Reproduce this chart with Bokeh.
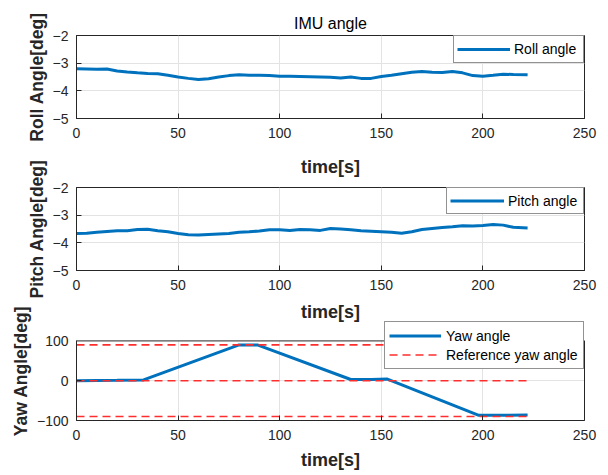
from bokeh.plotting import figure
from bokeh.models import (Range1d, Legend, LegendItem, FixedTicker, LinearAxis,
                          BoxAnnotation, Span, Title)
from bokeh.layouts import column
from bokeh.embed import file_html
from bokeh.resources import INLINE

# ---------------- data ----------------
time_s = [0, 5, 10, 15, 20, 25, 30, 35, 40, 45, 50, 55, 60, 65, 70, 75, 80, 85, 90, 95,
          100, 105, 110, 115, 120, 125, 130, 135, 140, 145, 150, 155, 160, 165, 170, 175,
          180, 185, 190, 195, 200, 205, 210, 215, 222]
roll_angle = [-3.20, -3.21, -3.22, -3.21, -3.28, -3.32, -3.35, -3.37, -3.38, -3.44,
              -3.50, -3.55, -3.59, -3.56, -3.50, -3.45, -3.42, -3.44, -3.44, -3.45,
              -3.47, -3.47, -3.48, -3.49, -3.50, -3.51, -3.54, -3.50, -3.55, -3.55,
              -3.48, -3.44, -3.38, -3.33, -3.30, -3.33, -3.34, -3.30, -3.35, -3.45,
              -3.47, -3.44, -3.40, -3.41, -3.42]
pitch_angle = [-3.66, -3.65, -3.62, -3.59, -3.56, -3.56, -3.52, -3.51, -3.56, -3.60,
               -3.66, -3.71, -3.72, -3.70, -3.68, -3.66, -3.62, -3.60, -3.57, -3.53,
               -3.53, -3.55, -3.52, -3.53, -3.55, -3.48, -3.50, -3.53, -3.56, -3.58,
               -3.60, -3.62, -3.65, -3.60, -3.52, -3.48, -3.45, -3.42, -3.38, -3.39,
               -3.37, -3.34, -3.36, -3.44, -3.46]
yaw_time = [0, 10, 20, 33, 80, 89, 135, 145, 153, 198, 210, 222]
yaw_angle = [0, 0.5, 1, 2, 90, 90, 3, 3, 4, -87, -87, -86]
ref_levels = [90, 0, -90]
ref_time = [0, 222]

x_ticks = [0, 50, 100, 150, 200, 250]
small_ticks = [-5, -4, -3, -2]
yaw_ticks = [-100, 0, 100]
yaw_limits = (-100, 100)

BLUE = "#0072BD"
RED = "#ff2e2e"
DARK = "#262626"
FONT = "Liberation Sans"
LABEL_SIZE = "17.5px"


def style_axis(ax):
    ax.axis_line_color = DARK
    ax.major_tick_in = 5
    ax.major_tick_out = 0
    ax.minor_tick_line_color = None
    ax.major_tick_line_color = DARK
    ax.major_label_text_font = FONT
    ax.major_label_text_font_size = "14px"
    ax.major_label_text_color = DARK
    ax.axis_label_text_font = FONT
    ax.axis_label_text_font_size = LABEL_SIZE
    ax.axis_label_text_font_style = "bold"
    ax.axis_label_text_color = DARK


def make_fig(height, btop, bbot, ylabel, yr, yticks, ybounds="auto"):
    p = figure(width=608, height=height, output_backend="svg", toolbar_location=None,
               x_range=Range1d(0, 250), y_range=Range1d(*yr),
               min_border_left=76, min_border_right=24,
               min_border_top=btop, min_border_bottom=bbot)
    p.outline_line_color = DARK
    p.outline_line_alpha = 1
    p.outline_line_width = 1
    p.grid.grid_line_color = "#e3e3e3"
    p.xaxis.ticker = FixedTicker(ticks=x_ticks)
    p.yaxis.ticker = FixedTicker(ticks=yticks)
    p.yaxis.bounds = ybounds
    style_axis(p.xaxis[0])
    style_axis(p.yaxis[0])
    p.xaxis.major_label_standoff = 9
    p.yaxis.axis_label = ylabel
    p.yaxis.major_label_standoff = 8
    p.yaxis.axis_label_standoff = 3
    return p


def make_title(text, size, style, standoff, valign):
    # the title of each lower panel doubles as the x-axis label of the panel above
    return Title(text=text, align="center", vertical_align=valign, text_font=FONT,
                 text_font_size=size, text_font_style=style,
                 text_color=DARK if style == "bold" else "black", standoff=standoff)


def style_legend(leg, padding, glyph_width, label_width, row_h=20, standoff=4):
    leg.padding = padding
    leg.margin = 0
    leg.spacing = 0
    leg.glyph_width = glyph_width
    leg.label_standoff = standoff
    leg.label_width = label_width
    leg.label_height = row_h
    leg.glyph_height = row_h
    leg.label_text_font = FONT
    leg.label_text_font_size = "14px"
    leg.label_text_color = "black"
    leg.border_line_color = DARK
    leg.border_line_width = 1
    leg.background_fill_alpha = 1
    leg.level = "overlay"


# ---- roll ----
p1 = make_fig(148, 35, 30, "Roll Angle[deg]", (-5, -2), small_ticks)
p1.title = make_title("IMU angle", "16px", "normal", 7, "bottom")
r1 = p1.line(time_s, roll_angle, line_color=BLUE, line_width=3)
leg1 = Legend(items=[LegendItem(label="Roll angle", renderers=[r1])], location="top_right")
style_legend(leg1, 3, 53, 66)
p1.add_layout(leg1)

# ---- pitch ----
p2 = make_fig(151, 39, 29, "Pitch Angle[deg]", (-5, -2), small_ticks)
p2.title = make_title("time[s]", "18px", "bold", 17, "top")
r2 = p2.line(time_s, pitch_angle, line_color=BLUE, line_width=3)
leg2 = Legend(items=[LegendItem(label="Pitch angle", renderers=[r2])], location="top_right")
style_legend(leg2, 3, 54, 72, row_h=19)
p2.add_layout(leg2)

# ---- yaw ----
# the plotting area reaches 20 px above the +100 limit so the legend can sit there,
# as in the reference; the axes box itself stops at +100.
box_px, extra_px = 82, 20
yaw_top = yaw_limits[1] + extra_px / box_px * (yaw_limits[1] - yaw_limits[0])
p3 = make_fig(176, 19, 55, "Yaw Angle[deg]", (yaw_limits[0], yaw_top), yaw_ticks,
              ybounds=yaw_limits)
p3.outline_line_color = None
p3.title = make_title("time[s]", "18px", "bold", 0, "bottom")
p3.xaxis.axis_label = "time[s]"
p3.xaxis.axis_label_standoff = 7
p3.xaxis.axis_label_text_font_size = "18px"
right_edge = LinearAxis(ticker=FixedTicker(ticks=[]), bounds=yaw_limits,
                        major_tick_out=0, major_tick_in=0, major_label_standoff=0,
                        axis_label_standoff=0, major_tick_line_color=None,
                        minor_tick_line_color=None, axis_line_color=DARK)
p3.add_layout(right_edge, "right")
p3.add_layout(BoxAnnotation(bottom=yaw_limits[1], fill_color="white", fill_alpha=1,
                            line_color=None))
p3.add_layout(Span(location=yaw_limits[1], dimension="width", line_color=DARK,
                   line_width=1))
r3 = p3.line(yaw_time, yaw_angle, line_color=BLUE, line_width=3)
ref_r = []
for lvl in ref_levels:
    ref_r.append(p3.line(ref_time, [lvl, lvl], line_color=RED, line_width=1.6,
                         line_dash="8 5"))
leg3 = Legend(items=[LegendItem(label="Yaw angle", renderers=[r3]),
                     LegendItem(label="Reference yaw angle", renderers=[ref_r[0]])],
              location="top_right")
style_legend(leg3, 4, 52, 133, row_h=19, standoff=5)
p3.add_layout(leg3)

layout = column(p1, p2, p3, spacing=0)
open("out.html", "w").write(file_html(layout, INLINE))
